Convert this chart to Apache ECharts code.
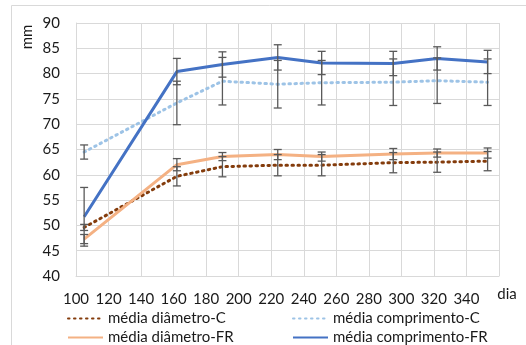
<!DOCTYPE html>
<html><head><meta charset="utf-8">
<script src="https://cdn.jsdelivr.net/npm/echarts@6/dist/echarts.min.js"></script>
<style>html,body{margin:0;padding:0;background:#fff}#c{width:526px;height:345px}</style>
</head><body><div id="c"></div>
<script>
const days = [105, 162, 190, 224, 251, 295, 322, 353];
const diamC = [49.6, 59.7, 61.6, 61.9, 61.9, 62.4, 62.5, 62.7];
const diamCErr = [0.6, 1.9, 2.0, 2.1, 2.1, 2.0, 2.0, 1.9];
const compC = [64.5, 74.2, 78.5, 77.9, 78.2, 78.3, 78.6, 78.3];
const compCErr = [1.4, 4.3, 4.7, 4.7, 4.4, 4.6, 4.5, 4.6];
const diamFR = [47.3, 62.0, 63.6, 64.0, 63.6, 64.1, 64.3, 64.3];
const diamFRErr = [0.9, 1.2, 0.8, 1.0, 0.9, 1.1, 0.8, 1.0];
const compFR = [51.7, 80.4, 81.8, 83.2, 82.1, 82.0, 83.0, 82.3];
const compFRErr = [5.8, 2.6, 2.5, 2.5, 2.3, 2.4, 2.3, 2.3];
const names = ['média diâmetro-C', 'média comprimento-C', 'média diâmetro-FR', 'média comprimento-FR'];
const xTicks = [100, 120, 140, 160, 180, 200, 220, 240, 260, 280, 300, 320, 340];

const FONT = 'Lato';
const FS = 15;
const TXT = '#1a1a1a';
const pairs = v => days.map((d, i) => [d, v[i]]);
const errData = (v, e) => days.map((d, i) => [d, v[i] - e[i], v[i] + e[i]]);

function errSeries(v, e) {
  return {
    type: 'custom', z: 5, silent: true,
    data: errData(v, e),
    encode: { x: 0, y: [1, 2] },
    renderItem: function (params, api) {
      const x = api.value(0);
      const lo = api.coord([x, api.value(1)]);
      const hi = api.coord([x, api.value(2)]);
      const w = 4;
      const st = { stroke: '#595959', lineWidth: 1.3 };
      return { type: 'group', children: [
        { type: 'line', shape: { x1: hi[0], y1: hi[1], x2: lo[0], y2: lo[1] }, style: st },
        { type: 'line', shape: { x1: hi[0] - w, y1: hi[1], x2: hi[0] + w, y2: hi[1] }, style: st },
        { type: 'line', shape: { x1: lo[0] - w, y1: lo[1], x2: lo[0] + w, y2: lo[1] }, style: st }
      ]};
    }
  };
}

function lineSeries(name, v, color, dotted) {
  return {
    name: name, type: 'line', data: pairs(v), symbol: 'none', z: 3,
    lineStyle: dotted
      ? { color: color, width: 3, type: [1.5, 4.5], cap: 'round' }
      : { color: color, width: 3 },
    itemStyle: { color: color }
  };
}

function legend(name, left, top) {
  return {
    data: [name], left: left, top: top, itemWidth: 35, itemHeight: 14, itemGap: 0,
    itemStyle: { opacity: 0 },
    textStyle: { fontFamily: FONT, fontSize: FS, color: TXT }, selectedMode: false
  };
}

const chart = echarts.init(document.getElementById('c'), null, { renderer: 'canvas' });
chart.setOption({
  animation: false,
  textStyle: { fontFamily: FONT },
  grid: { left: 76, right: 27, top: 23, bottom: 69 },
  xAxis: {
    type: 'value', min: 100, max: 360, interval: 20,
    axisLine: { show: true, lineStyle: { color: '#d9d9d9' } },
    axisTick: { show: false },
    splitLine: { show: true, lineStyle: { color: '#d9d9d9' } },
    axisLabel: {
      fontFamily: FONT, fontSize: FS, color: TXT, margin: 16,
      formatter: v => (xTicks.indexOf(v) >= 0 ? String(v) : '')
    }
  },
  yAxis: {
    type: 'value', min: 40, max: 90, interval: 5,
    axisLine: { show: true, lineStyle: { color: '#d9d9d9' } },
    axisTick: { show: false },
    splitLine: { show: true, lineStyle: { color: '#d9d9d9' } },
    axisLabel: { fontFamily: FONT, fontSize: FS, color: TXT, margin: 16 }
  },
  legend: [
    legend(names[0], 62, 306),
    legend(names[1], 287, 306),
    legend(names[2], 62, 325),
    legend(names[3], 287, 325)
  ],
  graphic: [
    { type: 'rect', shape: { x: 11.5, y: 5.5, width: 700, height: 500 }, style: { fill: 'none', stroke: '#d9d9d9', lineWidth: 1 }, z: -1 },
    { type: 'text', x: 27, y: 37, rotation: Math.PI / 2,
      style: { text: 'mm', font: FS + 'px ' + FONT, fill: TXT, align: 'center', verticalAlign: 'middle' } },
    { type: 'text', x: 507, y: 294,
      style: { text: 'dia', font: FS + 'px ' + FONT, fill: TXT, align: 'center', verticalAlign: 'middle' } }
  ],
  series: [
    lineSeries(names[0], diamC, '#843C0C', true),
    lineSeries(names[1], compC, '#9DC3E6', true),
    lineSeries(names[2], diamFR, '#F4B183', false),
    lineSeries(names[3], compFR, '#4472C4', false),
    errSeries(diamC, diamCErr),
    errSeries(compC, compCErr),
    errSeries(diamFR, diamFRErr),
    errSeries(compFR, compFRErr)
  ]
});
</script></body></html>
